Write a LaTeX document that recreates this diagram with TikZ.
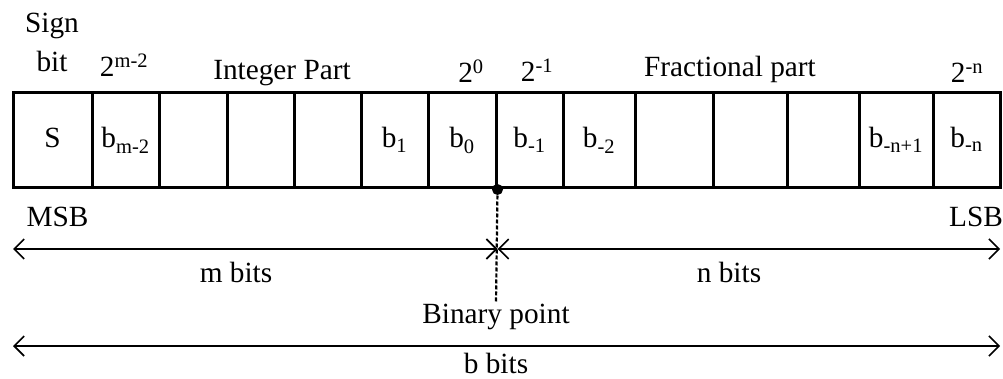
\documentclass[tikz,border=0pt]{standalone}
\usepackage{fontspec}
\setmainfont{Liberation Serif}
\usetikzlibrary{arrows.meta}
\tikzstyle{cell} = [draw, line width=3pt, shape=rectangle, minimum height=95pt, inner sep=0pt, text height=20pt, text depth=5pt]
\tikzstyle{lbl} = [anchor=base, inner sep=0pt]
\tikzstyle{bitspan} = [style={<->,>={Straight Barb[length=10pt,width=20pt]},line width=1.6pt}]
\tikzstyle{bpline} = [style={dash pattern=on 4pt off 2pt, line width=2.2pt}]

\begin{document}
\begin{tikzpicture}[x=1pt,y=-1pt,font=\fontsize{29.3}{34}\selectfont]
    \useasboundingbox (0,0) rectangle (1003,379);
    \begin{scope}
      % the register
      \node[cell, minimum width=79] (s) at (52.5,140.5) {S};
      \node[cell, minimum width=67] (bm2) at (125.5,140.5) {b\textsubscript{m-2}};
      \node[cell, minimum width=68] (i1) at (193,140.5) {};
      \node[cell, minimum width=67] (i2) at (260.5,140.5) {};
      \node[cell, minimum width=67] (i3) at (327.5,140.5) {};
      \node[cell, minimum width=67] (b1) at (394.5,140.5) {b\textsubscript{1}};
      \node[cell, minimum width=68] (b0) at (462,140.5) {b\textsubscript{0}};
      \node[cell, minimum width=67] (bn1) at (529.5,140.5) {b\textsubscript{-1}};
      \node[cell, minimum width=72] (bn2) at (599,140.5) {b\textsubscript{-2}};
      \node[cell, minimum width=78] (f1) at (674,140.5) {};
      \node[cell, minimum width=74] (f2) at (750,140.5) {};
      \node[cell, minimum width=72] (f3) at (823,140.5) {};
      \node[cell, minimum width=74] (bnp1) at (896,140.5) {b\textsubscript{-n+1}};
      \node[cell, minimum width=67] (bn) at (966.5,140.5) {b\textsubscript{-n}};

      % labels above
      \node[lbl] (sign) at (52,33) {Sign};
      \node[lbl] (bit) at (52,72) {bit};
      \node[lbl] (wm2) at (124,77) {2\textsuperscript{m-2}};
      \node[lbl] (intpart) at (282,80) {Integer Part};
      \node[lbl] (w0) at (471,83) {2\textsuperscript{0}};
      \node[lbl] (wn1) at (537,82) {2\textsuperscript{-1}};
      \node[lbl] (fracpart) at (730,77) {Fractional part};
      \node[lbl] (wn) at (967,83) {2\textsuperscript{-n}};

      % labels below
      \node[lbl] (msb) at (57.5,227) {MSB};
      \node[lbl] (lsb) at (976,227) {LSB};
      \node[lbl] (mbits) at (236,282) {m bits};
      \node[lbl] (nbits) at (729,282) {n bits};
      \node[lbl] (binpt) at (496,323) {Binary point};
      \node[lbl] (bbits) at (496,373) {b bits};

      \coordinate (bp) at (b0.south east);
      \coordinate (lt1) at (13,249);
      \coordinate (rt1) at (1000,249);
      \coordinate (mid) at (bp |- lt1);
      \coordinate (lt2) at (13,346);
      \coordinate (rt2) at (1000,346);

      \draw[bpline] (bp) -- (binpt.north);
      \fill (bp) circle (5.5pt);
      \draw[bitspan] (lt1) -- (mid);
      \draw[bitspan] (mid) -- (rt1);
      \draw[bitspan] (lt2) -- (rt2);
    \end{scope}
  \end{tikzpicture}
\end{document}
